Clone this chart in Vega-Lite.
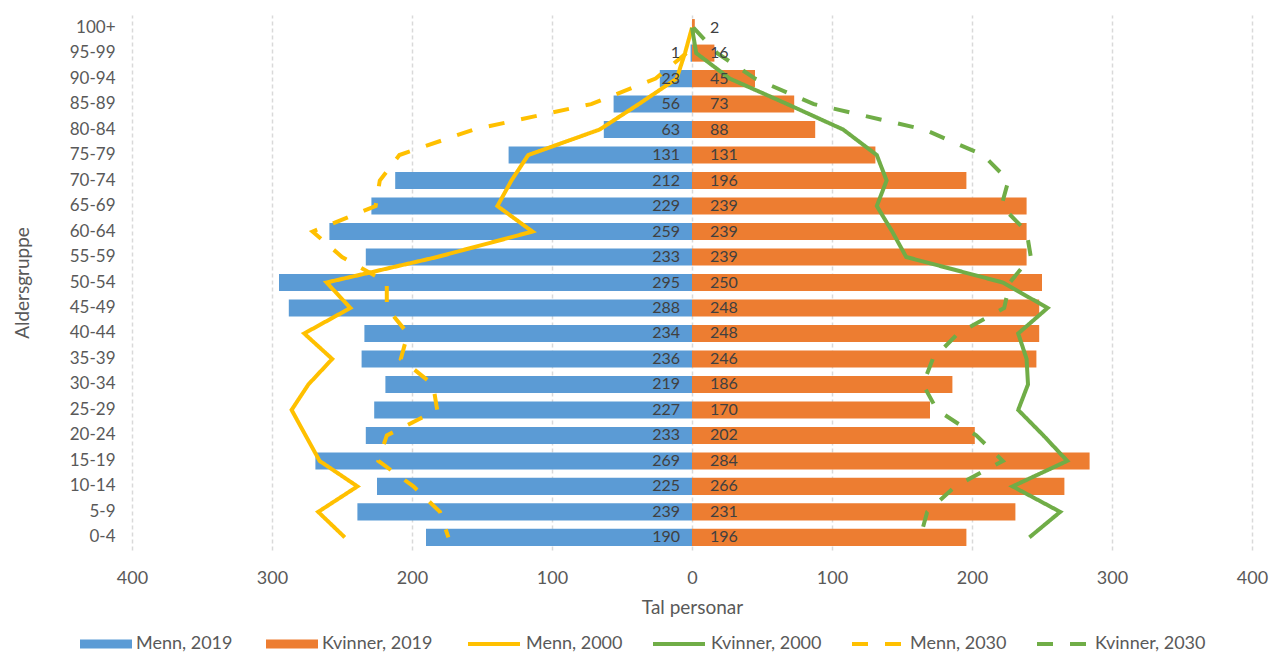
{
  "$schema": "https://vega.github.io/schema/vega-lite/v6.json",
  "width": 1120,
  "height": 535,
  "autosize": {"type": "none"},
  "padding": {"left": 132, "top": 15, "right": 20, "bottom": 104},
  "background": "white",
  "config": {"font": "Lato", "view": {"stroke": null}},
  "data": {
    "values": [
      {"age": "100+", "m19": 0, "k19": 2, "Menn, 2000": 0, "Kvinner, 2000": 0, "Menn, 2030": null, "Kvinner, 2030": 1},
      {"age": "95-99", "m19": -1, "k19": 16, "Menn, 2000": -5, "Kvinner, 2000": 3, "Menn, 2030": -4, "Kvinner, 2030": 18},
      {"age": "90-94", "m19": -23, "k19": 45, "Menn, 2000": -11, "Kvinner, 2000": 27, "Menn, 2030": -26, "Kvinner, 2030": 45},
      {"age": "85-89", "m19": -56, "k19": 73, "Menn, 2000": -38, "Kvinner, 2000": 68, "Menn, 2030": -72, "Kvinner, 2030": 87},
      {"age": "80-84", "m19": -63, "k19": 88, "Menn, 2000": -66, "Kvinner, 2000": 108, "Menn, 2030": -156, "Kvinner, 2030": 166},
      {"age": "75-79", "m19": -131, "k19": 131, "Menn, 2000": -117, "Kvinner, 2000": 132, "Menn, 2030": -209, "Kvinner, 2030": 208},
      {"age": "70-74", "m19": -212, "k19": 196, "Menn, 2000": -129, "Kvinner, 2000": 139, "Menn, 2030": -223, "Kvinner, 2030": 226},
      {"age": "65-69", "m19": -229, "k19": 239, "Menn, 2000": -139, "Kvinner, 2000": 132, "Menn, 2030": -226, "Kvinner, 2030": 221},
      {"age": "60-64", "m19": -259, "k19": 239, "Menn, 2000": -114, "Kvinner, 2000": 143, "Menn, 2030": -271, "Kvinner, 2030": 239},
      {"age": "55-59", "m19": -233, "k19": 239, "Menn, 2000": -182, "Kvinner, 2000": 153, "Menn, 2030": -250, "Kvinner, 2030": 242},
      {"age": "50-54", "m19": -295, "k19": 250, "Menn, 2000": -261, "Kvinner, 2000": 222, "Menn, 2030": -218, "Kvinner, 2030": 227},
      {"age": "45-49", "m19": -288, "k19": 248, "Menn, 2000": -244, "Kvinner, 2000": 254, "Menn, 2030": -218, "Kvinner, 2030": 223},
      {"age": "40-44", "m19": -234, "k19": 248, "Menn, 2000": -277, "Kvinner, 2000": 233, "Menn, 2030": -203, "Kvinner, 2030": 190},
      {"age": "35-39", "m19": -236, "k19": 246, "Menn, 2000": -257, "Kvinner, 2000": 239, "Menn, 2030": -208, "Kvinner, 2030": 172},
      {"age": "30-34", "m19": -219, "k19": 186, "Menn, 2000": -274, "Kvinner, 2000": 240, "Menn, 2030": -185, "Kvinner, 2030": 165},
      {"age": "25-29", "m19": -227, "k19": 170, "Menn, 2000": -286, "Kvinner, 2000": 233, "Menn, 2030": -182, "Kvinner, 2030": 175},
      {"age": "20-24", "m19": -233, "k19": 202, "Menn, 2000": -276, "Kvinner, 2000": 251, "Menn, 2030": -218, "Kvinner, 2030": 203},
      {"age": "15-19", "m19": -269, "k19": 284, "Menn, 2000": -266, "Kvinner, 2000": 268, "Menn, 2030": -224, "Kvinner, 2030": 222},
      {"age": "10-14", "m19": -225, "k19": 266, "Menn, 2000": -239, "Kvinner, 2000": 229, "Menn, 2030": -199, "Kvinner, 2030": 188},
      {"age": "5-9", "m19": -239, "k19": 231, "Menn, 2000": -267, "Kvinner, 2000": 263, "Menn, 2030": -180, "Kvinner, 2030": 168},
      {"age": "0-4", "m19": -190, "k19": 196, "Menn, 2000": -248, "Kvinner, 2000": 241, "Menn, 2030": -174, "Kvinner, 2030": 163}
    ]
  },
  "encoding": {
    "y": {
      "field": "age",
      "type": "nominal",
      "sort": ["100+", "95-99", "90-94", "85-89", "80-84", "75-79", "70-74", "65-69", "60-64", "55-59", "50-54", "45-49", "40-44", "35-39", "30-34", "25-29", "20-24", "15-19", "10-14", "5-9", "0-4"],
      "scale": {"paddingInner": 0.33, "paddingOuter": 0.16},
      "axis": {
        "title": "Aldersgruppe",
        "ticks": false,
        "domain": false,
        "grid": false,
        "labelFontSize": 17,
        "labelColor": "#595959",
        "labelPadding": 17,
        "titleFontSize": 19,
        "titleFontWeight": "normal",
        "titleColor": "#595959",
        "titlePadding": 37
      }
    }
  },
  "layer": [
    {
      "mark": {"type": "bar"},
      "encoding": {
        "x": {
          "field": "m19",
          "type": "quantitative",
          "scale": {"domain": [-400, 400], "nice": false},
          "axis": {
            "title": "Tal personar",
            "values": [-400, -300, -200, -100, 0, 100, 200, 300, 400],
            "labelExpr": "abs(datum.value)",
            "labelFlush": false,
            "ticks": false,
            "domain": false,
            "grid": true,
            "gridDash": [4, 3],
            "gridColor": "#D9D9D9",
            "gridWidth": 1.5,
            "labelFontSize": 18,
            "labelColor": "#595959",
            "labelPadding": 19,
            "titleFontSize": 19,
            "titleFontWeight": "normal",
            "titleColor": "#595959",
            "titlePadding": 11
          }
        },
        "color": {
          "datum": "Menn, 2019",
          "type": "nominal",
          "scale": {
            "domain": ["Menn, 2019", "Kvinner, 2019"],
            "range": ["#5B9BD5", "#ED7D31"]
          },
          "legend": {
            "title": null,
            "orient": "none",
            "direction": "horizontal",
            "legendX": -52,
            "legendY": 603,
            "symbolType": "M-1,-0.17H1V0.17H-1Z",
            "symbolSize": 2704,
            "symbolStrokeWidth": 0,
            "symbolOpacity": 1,
            "labelFontSize": 18,
            "labelColor": "#595959",
            "labelOffset": 4,
            "columnPadding": 33
          }
        }
      }
    },
    {
      "mark": {"type": "bar"},
      "encoding": {
        "x": {"field": "k19", "type": "quantitative"},
        "color": {"datum": "Kvinner, 2019", "type": "nominal"}
      }
    },
    {
      "mark": {"type": "rule", "color": "#D0D0D0", "strokeWidth": 1.5},
      "encoding": {"x": {"datum": 0, "type": "quantitative"}}
    },
    {
      "transform": [
        {"fold": ["Menn, 2000", "Kvinner, 2000", "Menn, 2030", "Kvinner, 2030"], "as": ["serie", "v"]}
      ],
      "mark": {"type": "line", "strokeWidth": 4},
      "encoding": {
        "x": {"field": "v", "type": "quantitative"},
        "stroke": {
          "field": "serie",
          "type": "nominal",
          "scale": {
            "domain": ["Menn, 2000", "Kvinner, 2000", "Menn, 2030", "Kvinner, 2030"],
            "range": ["#FFC000", "#70AD47", "#FFC000", "#70AD47"]
          },
          "legend": {
            "title": null,
            "orient": "none",
            "direction": "horizontal",
            "legendX": 334,
            "legendY": 601,
            "symbolType": "stroke",
            "symbolSize": 2704,
            "symbolStrokeWidth": 4,
            "labelFontSize": 18,
            "labelColor": "#595959",
            "labelOffset": 4,
            "columnPadding": 22
          }
        },
        "strokeDash": {
          "field": "serie",
          "type": "nominal",
          "scale": {
            "domain": ["Menn, 2000", "Kvinner, 2000", "Menn, 2030", "Kvinner, 2030"],
            "range": [[1, 0], [1, 0], [16, 17], [16, 17]]
          },
          "legend": {
            "title": null,
            "orient": "none",
            "direction": "horizontal",
            "legendX": 334,
            "legendY": 601,
            "symbolType": "stroke",
            "symbolSize": 2704,
            "symbolStrokeWidth": 4,
            "labelFontSize": 18,
            "labelColor": "#595959",
            "labelOffset": 4,
            "columnPadding": 22
          }
        }
      }
    },
    {
      "transform": [
        {"filter": "datum.m19 < 0"},
        {"calculate": "abs(datum.m19)", "as": "mlabel"}
      ],
      "mark": {"type": "text", "align": "right", "baseline": "middle", "dx": -12, "fontSize": 16, "color": "#404040"},
      "encoding": {
        "x": {"datum": 0, "type": "quantitative"},
        "text": {"field": "mlabel", "type": "quantitative"}
      }
    },
    {
      "mark": {"type": "text", "align": "left", "baseline": "middle", "dx": 18, "fontSize": 16, "color": "#404040"},
      "encoding": {
        "x": {"datum": 0, "type": "quantitative"},
        "text": {"field": "k19", "type": "quantitative"}
      }
    }
  ]
}
